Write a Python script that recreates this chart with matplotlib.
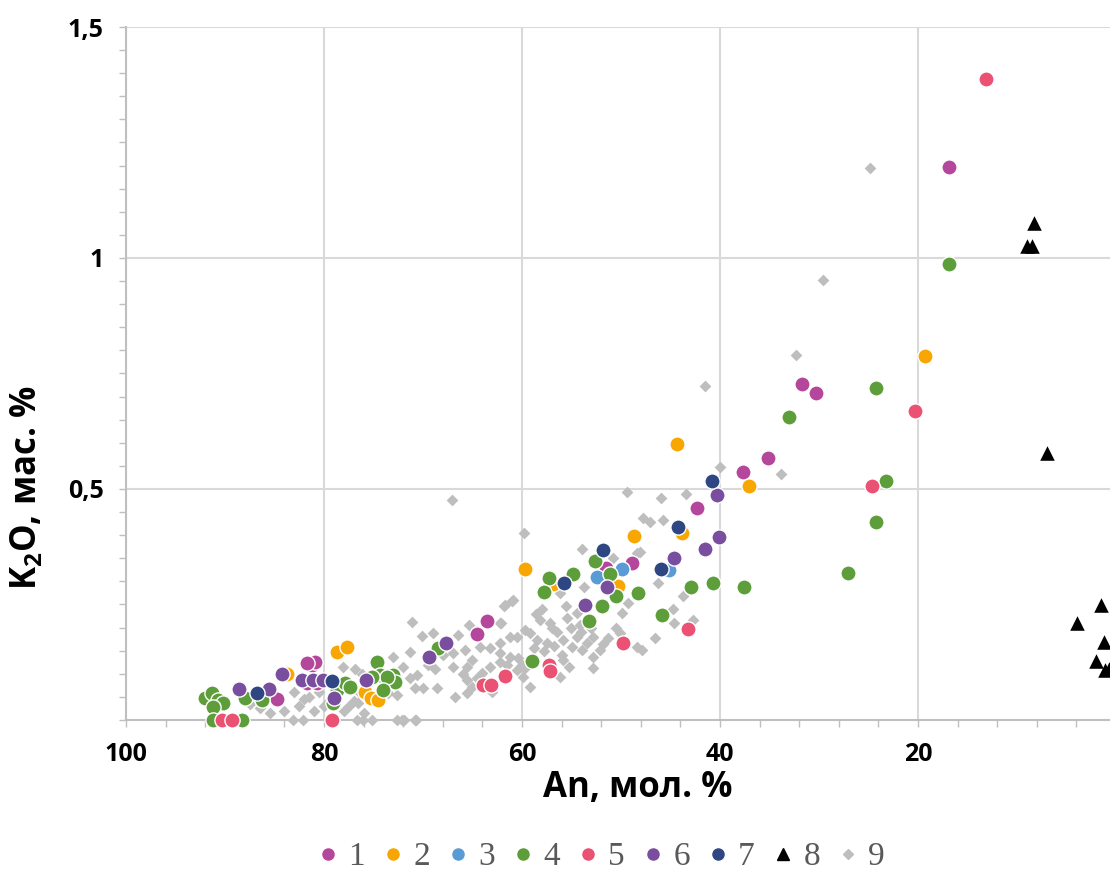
import numpy as np
import matplotlib.pyplot as plt
from matplotlib.lines import Line2D
from matplotlib.ticker import MultipleLocator, FixedLocator

# An (mol. %) and K2O (wt. %) for each group
an1 = [16.9, 31.7, 30.3, 35.1, 37.7, 42.3, 48.9, 51.5, 63.5, 64.5, 84.7, 81.2, 80.9, 81.7, 81.7, 80.7]
k1 = [1.197, 0.727, 0.708, 0.567, 0.537, 0.459, 0.34, 0.329, 0.214, 0.186, 0.046, 0.119, 0.126, 0.123, 0.08, 0.08]

an2 = [19.3, 37.1, 44.3, 43.8, 48.7, 59.7, 50.3, 56.9, 83.7, 78.7, 77.7, 75.9, 75.2, 74.5]
k2 = [0.788, 0.506, 0.597, 0.405, 0.398, 0.327, 0.29, 0.294, 0.1, 0.147, 0.158, 0.061, 0.048, 0.043]

an3 = [52.4, 49.9, 45.1]
k3 = [0.31, 0.327, 0.325]

an4 = [16.9, 24.2, 33.0, 23.2, 24.2, 27.1, 37.6, 40.7, 42.9, 45.9, 48.3, 50.5, 51.1, 51.9,
       53.2, 54.8, 57.3, 57.8, 59.0, 68.5, 73.0, 72.8, 74.6, 74.3, 73.6, 75.1, 74.0, 79.1,
       78.7, 77.9, 77.4, 92.0, 91.3, 90.7, 90.2, 91.2, 91.2, 88.3, 88.0, 86.3, 52.6]
k4 = [0.987, 0.718, 0.656, 0.517, 0.428, 0.318, 0.288, 0.297, 0.288, 0.227, 0.275, 0.268, 0.316, 0.247,
      0.214, 0.316, 0.307, 0.277, 0.128, 0.156, 0.097, 0.082, 0.126, 0.097, 0.093, 0.093, 0.065, 0.037,
      0.065, 0.08, 0.071, 0.048, 0.058, 0.043, 0.037, 0.028, 0.0, 0.0, 0.048, 0.043, 0.344]

an5 = [13.1, 20.3, 24.6, 43.2, 49.8, 57.3, 57.2, 61.7, 63.9, 63.1, 90.3, 89.3, 79.2]
k5 = [1.387, 0.669, 0.506, 0.197, 0.167, 0.119, 0.106, 0.095, 0.076, 0.076, 0.0, 0.0, 0.0]

an6 = [40.3, 40.1, 41.5, 44.6, 51.4, 53.6, 67.7, 69.4, 88.6, 85.6, 84.2, 82.2, 81.1, 80.1, 79.0, 75.8]
k6 = [0.487, 0.396, 0.37, 0.35, 0.288, 0.249, 0.167, 0.136, 0.067, 0.067, 0.1, 0.087, 0.087, 0.087, 0.048, 0.087]

an7 = [40.8, 44.2, 51.8, 55.8, 46.0, 86.8, 79.2]
k7 = [0.517, 0.418, 0.368, 0.297, 0.327, 0.058, 0.084]

an8 = [8.3, 9.0, 8.5, 7.0, 1.5, 3.9, 1.2, 2.0, 1.1, 0.7]
k8 = [1.076, 1.026, 1.026, 0.578, 0.249, 0.21, 0.169, 0.128, 0.108, 0.11]

an9 = [24.8, 29.6, 32.3, 33.8, 41.5, 40.0, 49.4, 46.0, 43.4, 67.1, 47.8, 47.1, 45.8, 59.8, 53.9,
       48.1, 48.4, 50.8, 46.3, 53.7, 56.2, 43.7, 49.3, 49.9, 44.7, 61.0, 61.8, 55.6, 44.6, 42.7,
       62.1, 46.6, 51.3, 50.1, 48.4, 47.9, 60.5, 71.1, 69.0, 70.1, 66.5, 65.3, 71.3, 73.0, 72.0,
       70.6, 71.3, 70.8, 70.0, 68.6, 72.6, 72.6, 71.9, 70.7, 67.0, 65.8, 65.0, 67.0, 65.6, 64.2,
       63.2, 62.2, 61.2, 62.2, 61.2, 59.7, 61.7, 60.9, 62.2, 59.2, 58.2, 58.5, 57.2, 56.5, 57.5,
       55.9, 54.9, 54.4, 53.9, 53.4, 55.9, 55.2, 56.2, 52.8, 52.1, 52.8, 52.8, 54.4, 54.1, 60.4,
       59.7, 60.5, 63.2, 62.2, 64.0, 65.6, 65.0, 66.8, 65.6, 59.9, 59.2, 83.1, 82.1, 76.7, 76.1,
       75.1, 72.1, 70.8, 84.0, 82.5, 81.0, 80.0, 82.0, 78.0, 77.0, 76.5, 76.0, 86.5, 87.5, 85.5,
       80.5, 83.0, 78.1, 76.9, 76.2, 75.5, 76.6, 73.5, 69.5, 68.0, 58.0, 57.0, 56.0, 63.0, 64.5,
       57.8, 56.8, 55.0, 54.0, 58.8, 60.0, 53.0, 51.8, 50.5, 55.5, 58.6, 61.5, 66.0, 68.8, 81.5,
       79.5, 84.8, 77.5, 74.8, 73.8]
k9 = [1.195, 0.952, 0.79, 0.532, 0.723, 0.548, 0.494, 0.481, 0.489, 0.476, 0.437, 0.429, 0.433, 0.405, 0.37,
      0.364, 0.361, 0.35, 0.297, 0.288, 0.275, 0.268, 0.253, 0.232, 0.24, 0.258, 0.247, 0.247, 0.21, 0.216,
      0.21, 0.177, 0.177, 0.188, 0.158, 0.152, 0.18, 0.212, 0.188, 0.182, 0.184, 0.206, 0.147, 0.136, 0.115,
      0.097, 0.091, 0.069, 0.069, 0.069, 0.054, 0.0, 0.0, 0.0, 0.145, 0.152, 0.13, 0.115, 0.115, 0.158,
      0.156, 0.167, 0.18, 0.145, 0.136, 0.195, 0.249, 0.26, 0.21, 0.188, 0.216, 0.173, 0.21, 0.19, 0.167,
      0.173, 0.158, 0.18, 0.152, 0.167, 0.13, 0.115, 0.093, 0.18, 0.152, 0.136, 0.113, 0.232, 0.206, 0.134,
      0.113, 0.108, 0.115, 0.126, 0.102, 0.087, 0.071, 0.05, 0.058, 0.093, 0.071, 0.0, 0.0, 0.0, 0.0,
      0.0, 0.0, 0.0, 0.02, 0.03, 0.02, 0.03, 0.045, 0.02, 0.04, 0.06, 0.015, 0.025, 0.035, 0.015,
      0.06, 0.06, 0.115, 0.11, 0.1, 0.08, 0.037, 0.058, 0.12, 0.14, 0.24, 0.2, 0.14, 0.06, 0.09,
      0.15, 0.16, 0.2, 0.19, 0.155, 0.12, 0.2, 0.165, 0.2, 0.22, 0.23, 0.12, 0.1, 0.11, 0.05,
      0.04, 0.045, 0.03, 0.05, 0.075]

labels = ['1', '2', '3', '4', '5', '6', '7', '8', '9']
colors = ['#B4479B', '#F8A602', '#5B9BD5', '#5D9E3A', '#EA5172', '#7A4E9F', '#2E4783', '#000000', '#BEBEBE']

fig = plt.figure(figsize=(11.1, 8.71), dpi=100)
ax = fig.add_axes([0.1135, 0.1734, 0.8865, 0.7956])

# gray diamonds go underneath
ax.scatter(an9, k9, marker='D', s=36, color=colors[8], linewidths=0, zorder=2, clip_on=False)

circles = [(an1, k1), (an2, k2), (an3, k3), (an4, k4), (an5, k5), (an6, k6), (an7, k7)]
for (a, k), c in zip(circles, colors[:7]):
    ax.scatter(a, k, marker='o', s=120, color=c, edgecolors='white', linewidths=1.0,
               zorder=3, clip_on=False)

ax.scatter(an8, k8, marker='^', s=110, color='black', linewidths=0, zorder=4, clip_on=False)

ax.set_xlim(100, 0.6)
ax.set_ylim(0, 1.5)

ax.xaxis.set_major_locator(FixedLocator([100, 80, 60, 40, 20]))
ax.xaxis.set_minor_locator(MultipleLocator(4))
ax.yaxis.set_major_locator(FixedLocator([0.5, 1.0, 1.5]))
ax.yaxis.set_minor_locator(MultipleLocator(0.05))
ax.set_yticklabels(['0,5', '1', '1,5'])

ax.grid(True, which='major', color='#D9D9D9', linewidth=1.5, zorder=0)
ax.set_axisbelow(True)
for side in ['top', 'right']:
    ax.spines[side].set_visible(False)
for side in ['left', 'bottom']:
    ax.spines[side].set_color('#BFBFBF')
    ax.spines[side].set_linewidth(1.5)

ax.tick_params(which='both', direction='out', color='#BFBFBF', length=5, width=1)
ax.tick_params(which='major', labelsize=18, pad=11)
for t in ax.get_xticklabels() + ax.get_yticklabels():
    t.set_fontweight('bold')
    t.set_fontfamily('Open Sans')

ax.set_xlabel('An, мол. %', fontsize=25, fontweight='bold', fontfamily='Open Sans')
ax.set_ylabel('K$_\\mathregular{2}$O, мас. %', fontsize=25, fontweight='bold', fontfamily='Open Sans')
ax.xaxis.set_label_coords(0.52, -0.072)
ax.yaxis.set_label_coords(-0.082, 0.335)

handles = []
for i, c in enumerate(colors):
    if i == 7:
        handles.append(Line2D([], [], linestyle='none', marker='^', markersize=9, color=c))
    elif i == 8:
        handles.append(Line2D([], [], linestyle='none', marker='D', markersize=5, color=c))
    else:
        handles.append(Line2D([], [], linestyle='none', marker='o', markersize=8, color=c))

leg = fig.legend(handles, labels, loc='center', bbox_to_anchor=(0.542, 0.016), ncol=9,
                 frameon=False, handlelength=0.6, handletextpad=0.3, columnspacing=0.55,
                 prop={'family': 'Liberation Serif', 'size': 24})
for t in leg.get_texts():
    t.set_color('#595959')

fig.savefig('out.png', dpi=100)
